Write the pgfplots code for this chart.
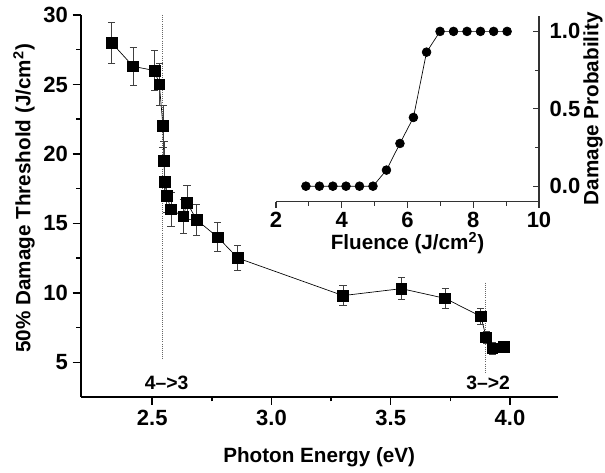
\documentclass[border=0pt]{standalone}
\usepackage{fontspec}
\setmainfont{Liberation Sans}
\usepackage{pgfplots}
\pgfplotsset{compat=1.18}
\usepackage{pgfplotstable}

% photon energy (eV), threshold (J/cm^2), error
\pgfplotstableread{
x y e
2.330 28.0 1.5
2.420 26.3 1.4
2.510 26.0 1.45
2.530 25.0 1.5
2.545 22.0 1.5
2.549 19.5 1.4
2.553 18.0 1.3
2.561 17.0 1.2
2.579 16.0 1.2
2.630 15.5 1.2
2.646 16.5 1.25
2.686 15.25 1.15
2.775 14.0 1.05
2.859 12.5 0.9
3.300 9.8 0.7
3.545 10.3 0.78
3.728 9.6 0.75
3.878 8.3 0.55
3.900 6.8 0.45
3.926 6.0 0.4
3.975 6.1 0.35
}\thresh

% fluence (J/cm^2), damage probability
\pgfplotstableread{
x y
2.91 0
3.32 0
3.73 0
4.13 0
4.54 0
4.95 0
5.36 0.104
5.77 0.276
6.18 0.444
6.58 0.866
6.99 1
7.40 1
7.81 1
8.22 1
8.62 1
9.03 1
}\prob

\newcommand\labfont{\bfseries\fontsize{15.5}{16}\selectfont}
\newcommand\tickfont{\bfseries\fontsize{16.5}{17}\selectfont}

\begin{document}
\begin{tikzpicture}
\pgfplotsset{
  /pgf/number format/assume math mode=true,
  xticklabel={\textbf{\pgfmathprintnumber{\tick}}},
  yticklabel={\textbf{\pgfmathprintnumber{\tick}}},
}
\begin{axis}[
  name=main,
  scale only axis,
  width=357.75pt, height=286.5pt,
  xmin=2.2, xmax=4.2,
  ymin=2.5, ymax=30,
  axis x line*=bottom, axis y line*=left,
  axis line style={-, line width=1.4pt},
  xtick={2.5,3.0,3.5,4.0},
  ytick={5,10,15,20,25,30},
  minor x tick num=1, minor y tick num=1,
  tick align=outside,
  major tick length=6pt, minor tick length=3.3pt,
  tick style={black, line width=1.1pt},
  tick label style={font=\tickfont},
  xticklabel style={/pgf/number format/.cd, fixed, fixed zerofill, precision=1},
  xlabel={Photon Energy (eV)},
  ylabel={50\% Damage Threshold (J/cm\textsuperscript{2})},
  every axis x label/.style={at={(axis description cs:0.5,0)}, yshift=-45pt, anchor=center, font=\labfont},
  every axis y label/.style={at={(axis description cs:0,0.52)}, xshift=-42.5pt, anchor=center, rotate=90, font=\labfont},
  clip=false,
]
\addplot[black!60, densely dotted, line width=0.6pt] coordinates {(2.542,30) (2.542,5.14)};
\addplot[black!60, densely dotted, line width=0.6pt] coordinates {(3.896,10.74) (3.896,4.14)};
\addplot[black, line width=0.5pt, mark=square*, mark size=4pt,
  mark options={solid, fill=black},
  error bars/.cd, y dir=both, y explicit,
  error bar style={black!75, line width=0.6pt},
  error mark options={rotate=90, mark size=2.7pt, black!75, line width=0.6pt}]
  table[x=x, y=y, y error=e] {\thresh};
\node[font=\fontsize{14.5}{15}\selectfont] at (axis cs:2.56,3.5) {\textbf{4--{}>3}};
\node[font=\fontsize{14.5}{15}\selectfont] at (axis cs:3.908,3.5) {\textbf{3--{}>2}};
\end{axis}

\begin{axis}[
  name=inset,
  scale only axis,
  at={(146.5pt,146.5pt)}, anchor=south west,
  width=197.25pt, height=139.3pt,
  xmin=2, xmax=10,
  ymin=-0.1, ymax=1.1,
  axis x line*=bottom, axis y line*=right,
  axis line style={-, line width=0.9pt, black!80},
  xtick={2,4,6,8,10},
  ytick={0,0.5,1},
  minor x tick num=1, minor y tick num=1,
  tick align=outside,
  major tick length=4.5pt, minor tick length=3pt,
  tick style={black!80, line width=0.8pt},
  every major y tick/.append style={xshift=-4.5pt},
  every minor y tick/.append style={xshift=-3pt},
  tick label style={font=\tickfont},
  yticklabel style={/pgf/number format/.cd, fixed, fixed zerofill, precision=1},
  xlabel={Fluence (J/cm\textsuperscript{2})},
  ylabel={Damage Probability},
  every axis x label/.style={at={(axis description cs:0.5,0)}, yshift=-31pt, anchor=center, font=\labfont},
  every axis y label/.style={at={(axis description cs:1,0.5)}, xshift=40.5pt, anchor=center, rotate=90, font=\labfont},
  clip=false,
]
\addplot[black, line width=0.5pt, mark=*, mark size=3.3pt, mark options={solid, fill=black}]
  table[x=x, y=y] {\prob};
\end{axis}

\pgfresetboundingbox
\path[use as bounding box] (-60.5pt,-57pt) rectangle (393.25pt,297.75pt);
\end{tikzpicture}
\end{document}
